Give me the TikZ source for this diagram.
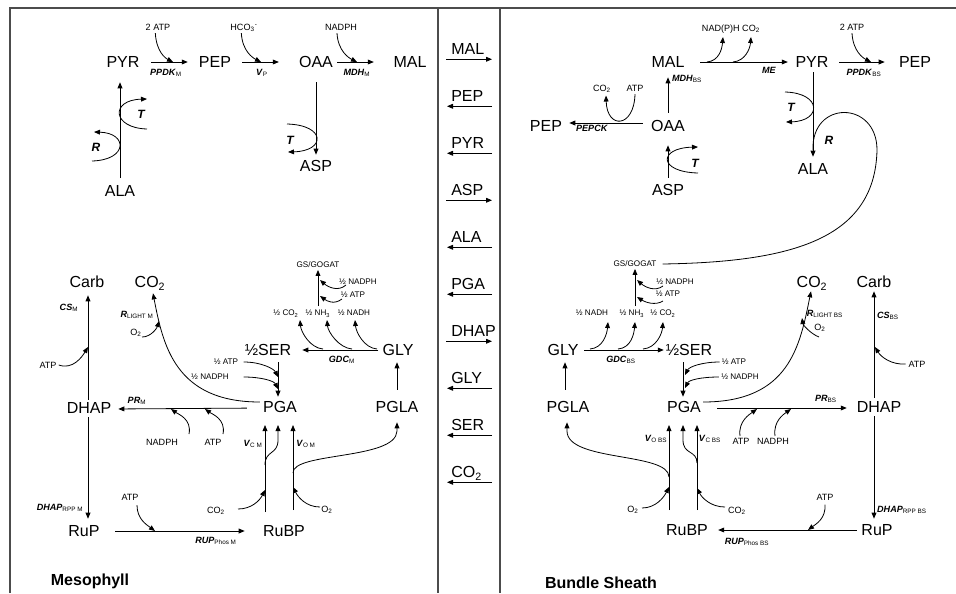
\documentclass[tikz,border=0pt]{standalone}
\usepackage{fontspec}
\setmainfont{Liberation Sans}
\usetikzlibrary{arrows.meta}
\newcommand{\enzy}[2]{\textbf{\textit{#1}}\textsubscript{#2}}
\newcommand{\midr}[3]{\node[sp, anchor=west] (#1) at (451,#2) {#3};
  \draw[arr] ([xshift=-3.75pt,yshift=-3.2pt]#1.south west) -- ++(46,0);}
\newcommand{\midl}[3]{\node[sp, anchor=west] (#1) at (451,#2) {#3};
  \draw[arr] ([xshift=30.75pt,yshift=-3.2pt]#1.south west) -- ++(-45,0);}
\begin{document}
\begin{tikzpicture}[x=0.75pt,y=-0.75pt,
 sp/.style={font=\fontsize{12}{12}\selectfont, inner sep=0pt, text height=8.6pt, text depth=0pt},
 sm/.style={font=\fontsize{6.8}{8}\selectfont, inner sep=0pt, text height=4.9pt, text depth=0pt},
 tn/.style={font=\fontsize{6.1}{7}\selectfont, inner sep=0pt, text height=4.4pt, text depth=0pt},
 enzl/.style={font=\fontsize{6.8}{7}\selectfont, inner sep=0pt, text height=4.9pt, text depth=0pt},
 trl/.style={font=\fontsize{9}{9}\selectfont\bfseries\itshape, inner sep=0pt},
 ttl/.style={font=\fontsize{12}{12}\selectfont\bfseries, inner sep=0pt},
 arr/.style={line width=0.6pt, -{Triangle[length=4.5pt,width=3.6pt]}},
 ln/.style={line width=0.6pt},
 frm/.style={line width=1.2pt, draw=black!70}]
\useasboundingbox (0,0) rectangle (956,593);
% frame
\draw[frm] (10,593) -- (10,8) -- (956,8);
\draw[frm] (438,8) -- (438,593);
\draw[frm] (500,8) -- (500,593);

% ===== Mesophyll top =====
\node[sp] (pyrM) at (123,62) {PYR};
\node[sp] (pepM) at (215,62) {PEP};
\node[sp] (oaaM) at (316,62) {OAA};
\node[sp] (malM) at (410,62) {MAL};
\draw[arr, shorten <=8.7pt, shorten >=8.2pt] (pyrM) -- (pepM);
\draw[arr, shorten <=8.25pt, shorten >=15pt] (pepM) -- (oaaM);
\draw[arr, shorten <=3pt, shorten >=14.6pt] (oaaM) -- (malM);
\node[sm] (atpM1) at (158,27) {2 ATP};
\node[sm] (hcoM) at (244,27) {HCO\textsubscript{3}\textsuperscript{-}};
\node[sm] (ndpM1) at (341,27) {NADPH};
\draw[arr] ([xshift=-2pt,yshift=-2pt]atpM1.south) .. controls +(1,18) and +(-8,-4) .. (173,62);
\draw[arr] ([xshift=-2pt,yshift=-2pt]hcoM.south) .. controls +(1,18) and +(-8,-4) .. (261,62);
\draw[arr] ([xshift=-3pt,yshift=-2pt]ndpM1.south) .. controls +(1,18) and +(-8,-4) .. (357,62);
\node[enzl] (eM1) at (166,72) {\enzy{PPDK}{M}};
\node[enzl] (eM2) at (262,72) {\enzy{V}{P}};
\node[enzl] (eM3) at (357,72) {\enzy{MDH}{M}};
% ALA -> PYR
\node[sp] (alaM) at (120,191) {ALA};
\draw[arr, shorten <=5.25pt, shorten >=10.7pt] (alaM.north) -- (alaM.north |- pyrM.south);
\draw[arr] (147,129) .. controls (112,128) and (110,100) .. (147,99);
\node[trl] (tM1) at (141,114) {T};
\draw[arr] (92,161) .. controls (128,160) and (128,133) .. (94,132);
\node[trl] (rM1) at (96,147) {R};
% OAA -> ASP
\node[sp] (aspM) at (316,166) {ASP};
\draw[arr, shorten <=10.7pt, shorten >=4pt] (oaaM) -- (aspM);
\draw[arr] (287,124) .. controls (326,125) and (326,151) .. (288,152);
\node[trl] (tM2) at (290,140) {T};

% ===== Bundle sheath top =====
\node[sp] (malB) at (668,62) {MAL};
\node[sp] (pyrB) at (812,62) {PYR};
\node[sp] (pepB2) at (915,62) {PEP};
\node[sp] (oaaB) at (668,126) {OAA};
\node[sp] (pepB) at (546,126) {PEP};
\node[sp] (aspB) at (668,190) {ASP};
\node[sp] (alaB) at (813,169) {ALA};
\draw[arr, shorten <=11.7pt, shorten >=5.6pt] (malB) -- (pyrB);
\draw[arr, shorten <=7.9pt, shorten >=10.5pt] (pyrB) -- (pepB2);
\draw[arr, shorten <=5.5pt, shorten >=7pt] (oaaB) -- (malB);
\draw[arr, shorten <=6pt, shorten >=5.25pt] ([yshift=2.25pt]oaaB.west) -- ([yshift=2.25pt]pepB.east);
\draw[arr, shorten <=4.7pt, shorten >=10pt] (aspB) -- (oaaB);
\draw[arr, shorten <=3.2pt, shorten >=4.7pt] (alaB.north |- pyrB.south) -- (alaB.north);
\node[sm] (ndpB) at (731,28) {NAD(P)H CO\textsubscript{2}};
\draw[arr] (707,62) .. controls +(12,-1) and +(-1,12) .. (723,37);
\draw[arr] (733,62) .. controls +(12,-1) and +(-1,12) .. (751,37);
\node[sm] (atpB2) at (852,27) {2 ATP};
\draw[arr] ([yshift=-2pt]atpB2.south) .. controls +(1,18) and +(-8,-4) .. (871,62);
\node[enzl] (eB1) at (769,70) {\textbf{\textit{ME}}};
\node[enzl] (eB2) at (864,72) {\enzy{PPDK}{BS}};
\node[enzl] (eB3) at (687,78) {\enzy{MDH}{BS}};
\node[enzl] (eB4) at (592,128) {\textbf{\textit{PEPCK}}};
\node[sm] (co2B1) at (602,88) {CO\textsubscript{2}};
\node[sm] (atpB1) at (635,88) {ATP};
\draw[arr] ([yshift=-2pt]atpB1.south) .. controls +(-1,34) and +(1,34) .. ([xshift=3pt,yshift=-3pt]co2B1.south);
\draw[arr] (785,92) .. controls (822,93) and (822,121) .. (786,122);
\node[trl] (tB1) at (791,107) {T};
\node[tn] (gsB) at (635,264) {GS/GOGAT};
\draw[ln] (813,150) .. controls (811,100) and (877,100) .. (877,150) .. controls (875,240) and (790,262) .. ([xshift=4.5pt]gsB.east);
\node[trl] (rB1) at (829,140) {R};
\draw[arr] (698,173) .. controls (658,172) and (658,148) .. (698,147);
\node[trl] (tB2) at (695,163) {T};

% ===== Mesophyll lower =====
\node[sp] (carbM) at (87,282) {Carb};
\node[sp] (co2M) at (150,282) {CO\textsubscript{2}};
\node[sp] (dhapM) at (89,408) {DHAP};
\node[sp] (serM) at (268,350) {½SER};
\node[sp] (glyM) at (398,350) {GLY};
\node[sp] (pgaM) at (280,407) {PGA};
\node[sp] (pglaM) at (397,407) {PGLA};
\node[sp] (rupM) at (84,531) {RuP};
\node[sp] (rubpM) at (284,531) {RuBP};
\node[tn] (gsM) at (318,265) {GS/GOGAT};
\draw[arr, shorten <=1.7pt, shorten >=5.5pt] ([xshift=-0.75pt]dhapM.north) -- ([xshift=-0.75pt]dhapM.north |- carbM.south);
\node[enzl] (eM4) at (69,307) {\enzy{CS}{M}};
\node[sm] (atpM2) at (48,365) {ATP};
\draw[arr] ([xshift=1.5pt]atpM2.east) .. controls +(14,5) and +(-6,10) .. (88,347);
\draw[arr, shorten <=2.25pt, shorten >=4.7pt] ([xshift=-0.75pt]dhapM.south) -- ([xshift=-0.75pt]dhapM.south |- rupM.north);
\node[enzl] (eM5) at (60,507) {\enzy{DHAP}{RPP M}};
\draw[arr, shorten <=12pt, shorten >=5.1pt] ([yshift=-0.75pt]pgaM.west) -- ([yshift=-0.75pt]dhapM.east);
\node[enzl] (eM6) at (137,400) {\enzy{PR}{M}};
\node[sm] (ndpM2) at (162,442) {NADPH};
\node[sm] (atpM3) at (213,442) {ATP};
\draw[arr] (189,434) .. controls +(3,-15) and +(7,5) .. (171,409);
\draw[arr] (223,434) .. controls +(3,-15) and +(7,5) .. (205,409);
\draw[arr] ([xshift=-2.25pt,yshift=3.75pt]pgaM.west) .. controls (175,402) and (163,345) .. ([xshift=2.25pt,yshift=-4pt]co2M.south);
\node[enzl] (eM7) at (137,314) {\enzy{R}{LIGHT M}};
\node[sm] (o2M1) at (136,332) {O\textsubscript{2}};
\draw[arr] (142,337) .. controls +(9,0) and +(-2,7) .. (159,321);
\node[tn] (hatpM) at (226,362) {½ ATP};
\node[tn] (hndpM) at (210,377) {½ NADPH};
\draw[arr] ([xshift=4pt]hatpM.east) .. controls +(18,0) and +(-4,-8) .. (278,377);
\draw[arr] ([xshift=11pt]hndpM.east) .. controls +(18,0) and +(-4,-8) .. (278,389);
\draw[arr, shorten <=4.7pt, shorten >=3.2pt] ([xshift=7.5pt]serM.south) -- ([xshift=-1.5pt]pgaM.north);
\draw[arr, shorten <=3pt, shorten >=8.2pt] (glyM) -- (serM);
\node[enzl] (eM8) at (342,359) {\enzy{GDC}{M}};
\node[tn] (hco2M) at (286,313) {½ CO\textsubscript{2}};
\node[tn] (hnh3M) at (318,313) {½ NH\textsubscript{3}};
\node[tn] (hnadhM) at (354,313) {½ NADH};
\draw[arr] (323,349) .. controls +(-13,-1) and +(1,12) .. (300,320);
\draw[arr] (352,349) .. controls +(-13,-1) and +(1,12) .. (327,320);
\draw[arr] (377,349) .. controls +(-13,-1) and +(1,12) .. (355,320);
\draw[arr, shorten <=2.8pt, shorten >=1.3pt] (hnh3M) -- (gsM);
\node[tn] (hndpM2) at (358,282) {½ NADPH};
\node[tn] (hatpM2) at (353,295) {½ ATP};
\draw[arr] (346,285) .. controls (338,292) and (328,287) .. (320,280);
\draw[arr] (342,299) .. controls (334,305) and (327,301) .. (320,296);
\draw[arr, shorten <=8.5pt, shorten >=4.7pt] (pglaM) -- (pglaM.north |- glyM.south);
\coordinate (mVa) at (265,512);
\coordinate (mVc) at (293,510);
\draw[arr] (mVa) -- (265,425);
\draw[arr] (265,465) .. controls (265,450) and (278,455) .. (278,440) -- (278,425);
\draw[arr] (mVc) -- (293,425);
\draw[arr] (293,473) .. controls (292,452) and (396,460) .. (397,431) -- ([yshift=-7pt]pglaM.south);
\node[sm] (co2M2) at (216,510) {CO\textsubscript{2}};
\node[sm] (o2M2) at (327,509) {O\textsubscript{2}};
\draw[arr] (238,509) .. controls +(14,0) and +(-5,10) .. (265,490);
\draw[arr] (320,507) .. controls +(-14,0) and +(5,10) .. (293,487);
\node[enzl] (eM9) at (253,443) {\enzy{V}{C M}};
\node[enzl] (eM10) at (306,443) {\enzy{V}{O M}};
\draw[arr, shorten <=11.5pt, shorten >=13.6pt] (rupM) -- (rubpM);
\node[sm] (atpM4) at (130,497) {ATP};
\draw[arr] ([xshift=5.25pt,yshift=-3.5pt]atpM4.south) .. controls +(0,14) and +(-8,-6) .. (155,531);
\node[enzl] (eM11) at (216,540) {\enzy{RUP}{Phos M}};
\node[ttl] (lblM) at (90,581) {Mesophyll};

% ===== Bundle sheath lower =====
\node[sp] (glyB) at (563,350) {GLY};
\node[sp] (serB) at (689,350) {½SER};
\node[sp] (pglaB) at (568,407) {PGLA};
\node[sp] (pgaB) at (684,407) {PGA};
\node[sp] (co2B) at (812,282) {CO\textsubscript{2}};
\node[sp] (carbB) at (874,282) {Carb};
\node[sp] (dhapB) at (879,407) {DHAP};
\node[sp] (rubpB) at (687,530) {RuBP};
\node[sp] (rupB) at (877,530) {RuP};
\draw[arr, shorten <=4.1pt, shorten >=1.4pt] (glyB) -- (serB);
\node[enzl] (eB5) at (621,359) {\enzy{GDC}{BS}};
\node[tn] (hnadhB) at (592,313) {½ NADH};
\node[tn] (hnh3B) at (632,313) {½ NH\textsubscript{3}};
\node[tn] (hco2B) at (663,313) {½ CO\textsubscript{2}};
\draw[arr] (590,349) .. controls +(13,-1) and +(-1,12) .. (608,322);
\draw[arr] (618,349) .. controls +(13,-1) and +(-1,12) .. (635,322);
\draw[arr] (643,349) .. controls +(13,-1) and +(-1,12) .. (663,322);
\draw[arr, shorten <=2.8pt, shorten >=1.3pt] ([xshift=2.25pt]hnh3B.north) -- (gsB.south);
\node[tn] (hndpB) at (675,282) {½ NADPH};
\node[tn] (hatpB) at (668,294) {½ ATP};
\draw[arr] (663,286) .. controls (655,292) and (645,287) .. (637,280);
\draw[arr] (663,301) .. controls (655,306) and (645,302) .. (637,297);
\draw[arr, shorten <=8.5pt, shorten >=4.7pt] ([xshift=-2.25pt]pglaB.north) -- ([xshift=-2.25pt]pglaB.north |- glyB.south);
\draw[arr, shorten <=4.7pt, shorten >=3.2pt] ([xshift=-4.5pt]serB.south) -- ([xshift=-0.75pt]pgaB.north);
\node[tn] (hatpB2) at (734,362) {½ ATP};
\node[tn] (hndpB2) at (740,377) {½ NADPH};
\draw[arr] ([xshift=-1.5pt]hatpB2.west) .. controls +(-18,0) and +(4,-8) .. (685,375);
\draw[arr] ([xshift=-1.5pt]hndpB2.west) .. controls +(-18,0) and +(4,-8) .. (685,388);
\draw[arr, shorten <=12pt, shorten >=7.3pt] ([yshift=-0.75pt]pgaB.east) -- ([yshift=-0.75pt]dhapB.west);
\node[enzl] (eB6) at (826,398) {\enzy{PR}{BS}};
\node[sm] (atpB5) at (741,441) {ATP};
\node[sm] (ndpB3) at (773,441) {NADPH};
\draw[arr] (740,436) .. controls +(-2,-15) and +(-7,5) .. (757,409);
\draw[arr] (775,436) .. controls +(-2,-15) and +(-7,5) .. (791,409);
\draw[arr] ([xshift=1.5pt,yshift=3.75pt]pgaB.east) .. controls (790,402) and (800,345) .. ([xshift=-0.75pt,yshift=-2.5pt]co2B.south);
\node[enzl] (eB7) at (825,313) {\enzy{R}{LIGHT BS}};
\node[sm] (o2B1) at (820,327) {O\textsubscript{2}};
\draw[arr] (819,337) .. controls +(-8,-3) and +(1,7) .. (802,318);
\draw[arr, shorten <=2.5pt, shorten >=2.5pt] ([xshift=-3.75pt]dhapB.north) -- ([xshift=-3.75pt]dhapB.north |- carbB.south);
\node[enzl] (eB8) at (888,315) {\enzy{CS}{BS}};
\node[sm] (atpB3) at (917,364) {ATP};
\draw[arr] ([xshift=-2pt]atpB3.west) .. controls +(-14,1) and +(6,10) .. (875,347);
\draw[arr, shorten <=2.5pt, shorten >=4pt] ([xshift=-3.75pt]dhapB.south) -- ([xshift=-3.75pt]dhapB.south |- rupB.north);
\node[enzl] (eB9) at (902,509) {\enzy{DHAP}{RPP BS}};
\draw[arr, shorten <=3.3pt, shorten >=7.5pt] (rupB) -- (rubpB);
\node[sm] (atpB4) at (825,497) {ATP};
\draw[arr] ([yshift=-3pt]atpB4.south) .. controls +(1,14) and +(8,-6) .. (808,530);
\node[enzl] (eB10) at (747,541) {\enzy{RUP}{Phos BS}};
\coordinate (bVo) at (669,510);
\coordinate (bVc) at (697,510);
\draw[arr] (bVo) -- (669,425);
\draw[arr] (bVc) -- (697,425);
\draw[arr] (697,463) .. controls (697,450) and (683,455) .. (683,440) -- (683,425);
\draw[arr] (669,477) .. controls (669,452) and (567,462) .. (567,431) -- ([xshift=-0.75pt,yshift=-7pt]pglaB.south);
\node[sm] (o2B2) at (633,509) {O\textsubscript{2}};
\node[sm] (co2B2) at (737,510) {CO\textsubscript{2}};
\draw[arr] (642,508) .. controls +(14,0) and +(-5,10) .. (669,487);
\draw[arr] (725,507) .. controls +(-14,0) and +(5,10) .. (697,488);
\node[enzl] (eB11) at (656,438) {\enzy{V}{O BS}};
\node[enzl] (eB12) at (710,438) {\enzy{V}{C BS}};
\node[ttl] (lblB) at (601,583) {Bundle Sheath};

% ===== middle column =====
\midr{xMAL}{49}{MAL}
\midl{xPEP}{96}{PEP}
\midl{xPYR}{143}{PYR}
\midr{xASP}{190}{ASP}
\midl{xALA}{237}{ALA}
\midl{xPGA}{284}{PGA}
\midr{xDHAP}{331}{DHAP}
\midl{xGLY}{378}{GLY}
\midl{xSER}{425}{SER}
\midl{xCO}{472}{CO\textsubscript{2}}
\end{tikzpicture}
\end{document}
